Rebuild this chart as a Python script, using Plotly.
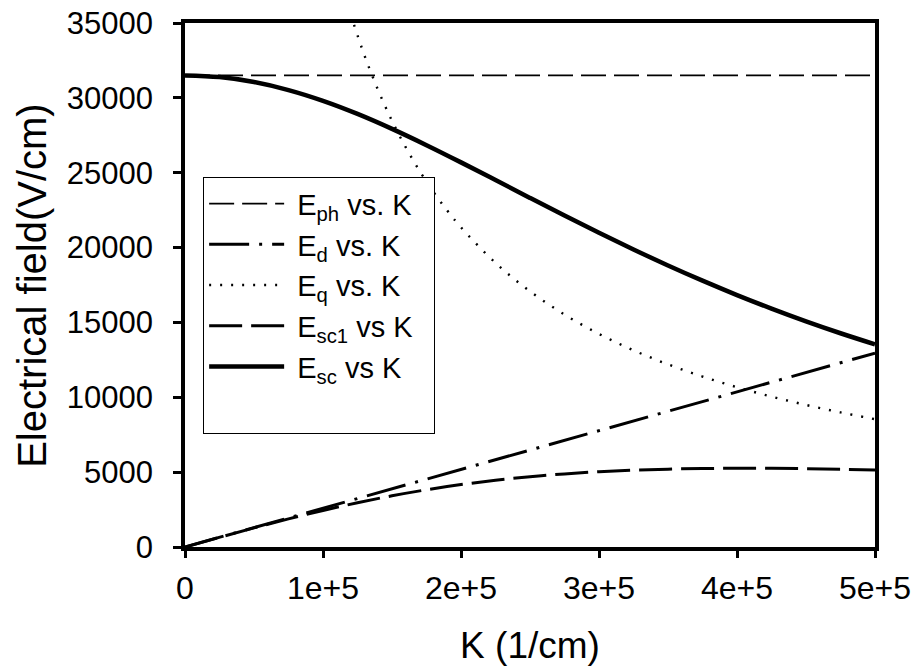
import plotly.graph_objects as go

# Wave-number grid (1/cm)
k_grid = [0, 25000, 50000, 75000, 100000, 125000, 150000, 175000, 200000,
          225000, 250000, 275000, 300000, 325000, 350000, 375000, 400000,
          425000, 450000, 475000, 500000]

# Photovoltaic field (V/cm)
k_ph = [0, 500000]
e_ph = [31500, 31500]

# Diffusion field (V/cm)
k_d = [0, 100000, 200000, 300000, 400000, 500000]
e_d = [0, 2590, 5180, 7770, 10360, 12950]

# Saturation field (V/cm)
k_q = [120000, 130000, 140000, 150000, 160000, 170000, 180000, 190000,
       200000, 225000, 250000, 275000, 300000, 325000, 350000, 375000,
       400000, 425000, 450000, 475000, 500000]
e_q = [35583, 32846, 30500, 28467, 26688, 25118, 23722, 22474,
       21350, 18978, 17080, 15527, 14233, 13138, 12200, 11387,
       10675, 10047, 9489, 8989, 8540]

# Space-charge field without photovoltaic contribution (V/cm)
e_sc1 = [0, 645, 1276, 1878, 2442, 2957, 3419, 3822, 4169, 4458, 4695,
         4883, 5026, 5130, 5201, 5242, 5258, 5253, 5230, 5194, 5146]

# Total space-charge field (V/cm)
e_sc = [31500, 31388, 31056, 30518, 29799, 28925, 27927, 26839, 25690,
        24509, 23319, 22139, 20987, 19873, 18805, 17790, 16828, 15923,
        15073, 14277, 13535]

x_ticks = [0, 100000, 200000, 300000, 400000, 500000]
x_labels = ["0", "1e+5", "2e+5", "3e+5", "4e+5", "5e+5"]
y_ticks = [0, 5000, 10000, 15000, 20000, 25000, 30000, 35000]
y_labels = ["0", "5000", "10000", "15000", "20000", "25000", "30000", "35000"]

FONT = "Liberation Sans, Arial, sans-serif"
NB = "\u00a0"

fig = go.Figure()
fig.add_trace(go.Scatter(x=k_ph, y=e_ph, mode="lines",
                         name=NB + "E<sub>ph</sub> vs. K",
                         line=dict(color="black", width=1.6, dash="25px,8px")))
fig.add_trace(go.Scatter(x=k_d, y=e_d, mode="lines",
                         name=NB + "E<sub>d</sub> vs. K",
                         line=dict(color="black", width=3,
                                   dash="40px,10px,3px,10px")))
fig.add_trace(go.Scatter(x=k_q, y=e_q, mode="lines", line_shape="spline",
                         name=NB + "E<sub>q</sub> vs. K",
                         line=dict(color="black", width=2.4, dash="2px,9px")))
fig.add_trace(go.Scatter(x=k_grid, y=e_sc1, mode="lines", line_shape="spline",
                         name=NB + "E<sub>sc1</sub> vs K" + NB * 2,
                         line=dict(color="black", width=3, dash="33px,9px")))
fig.add_trace(go.Scatter(x=k_grid, y=e_sc, mode="lines", line_shape="spline",
                         name=NB + "E<sub>sc</sub> vs K",
                         line=dict(color="black", width=4.5)))
# empty bottom row inside the legend box
fig.add_trace(go.Scatter(x=[None], y=[None], mode="lines", name=NB,
                         line=dict(color="rgba(0,0,0,0)", width=0),
                         hoverinfo="skip"))

fig.update_layout(
    width=916, height=668,
    margin=dict(l=185, r=41, t=23, b=121, autoexpand=False),
    paper_bgcolor="white", plot_bgcolor="white",
    font=dict(family=FONT, color="black"),
    legend=dict(x=0.026, y=0.706, xanchor="left", yanchor="top",
                bgcolor="white", bordercolor="black", borderwidth=1.2,
                font=dict(size=29, family=FONT), itemwidth=75,
                tracegroupgap=0),
    annotations=[dict(text="Electrical field(V/cm)", textangle=-90,
                      xref="paper", yref="paper", x=-0.222, y=0.5,
                      xanchor="center", yanchor="middle", showarrow=False,
                      font=dict(size=40, family=FONT, color="black"))],
)
fig.update_xaxes(
    range=[0, 500000], tickvals=x_ticks, ticktext=x_labels,
    showgrid=False, zeroline=False, automargin=False,
    showline=True, linecolor="black", linewidth=3.5, mirror=True,
    ticks="outside", ticklen=7, tickwidth=3, tickcolor="black",
    tickfont=dict(size=32, family=FONT), ticklabelstandoff=3,
    title=dict(text="K (1/cm)", font=dict(size=37, family=FONT), standoff=28),
)
fig.update_yaxes(
    range=[0, 35000], tickvals=y_ticks, ticktext=y_labels,
    showgrid=False, zeroline=False, automargin=False,
    showline=True, linecolor="black", linewidth=3.5, mirror=True,
    ticks="outside", ticklen=8, tickwidth=3, tickcolor="black",
    tickfont=dict(size=31, family=FONT), ticklabelstandoff=14,
)

fig.write_html("out.html")
